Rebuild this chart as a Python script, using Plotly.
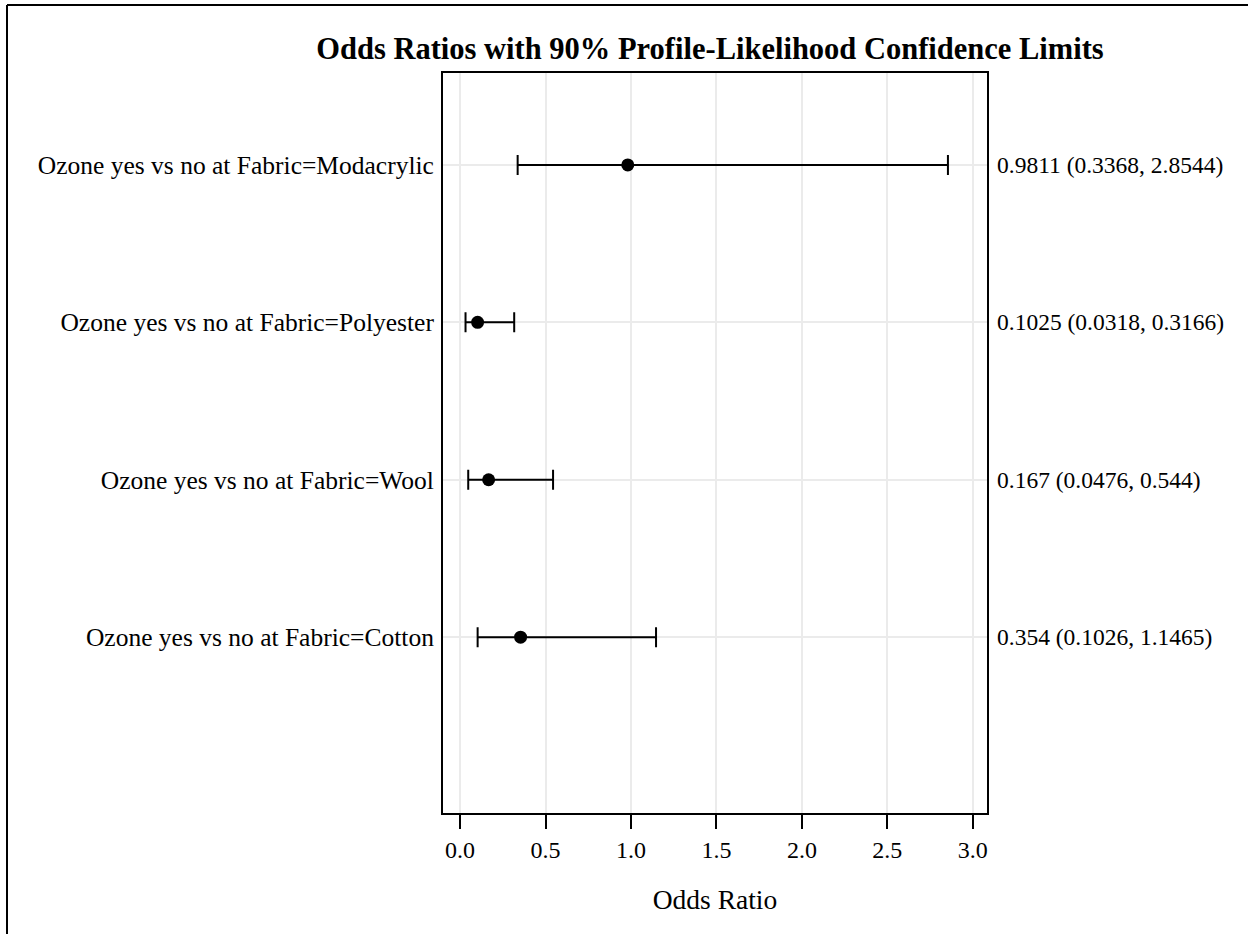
import plotly.graph_objects as go

categories = ["Ozone yes vs no at Fabric=Cotton",
              "Ozone yes vs no at Fabric=Wool",
              "Ozone yes vs no at Fabric=Polyester",
              "Ozone yes vs no at Fabric=Modacrylic"]
odds_ratio = [0.354, 0.167, 0.1025, 0.9811]
lower = [0.1026, 0.0476, 0.0318, 0.3368]
upper = [1.1465, 0.544, 0.3166, 2.8544]
right_labels = ["0.354 (0.1026, 1.1465)",
                "0.167 (0.0476, 0.544)",
                "0.1025 (0.0318, 0.3166)",
                "0.9811 (0.3368, 2.8544)"]
x_ticks = [0.0, 0.5, 1.0, 1.5, 2.0, 2.5, 3.0]
x_tick_labels = ["0.0", "0.5", "1.0", "1.5", "2.0", "2.5", "3.0"]

FONT = "Liberation Serif"
L, R, T, B = 443, 1248 - 987, 73, 934 - 813
W, H = 1248, 934
pw, ph = W - L - R, H - T - B

fig = go.Figure()
fig.add_trace(go.Scatter(
    x=odds_ratio, y=list(range(len(categories))), mode="markers",
    marker=dict(color="black", size=13),
    error_x=dict(type="data", symmetric=False,
                 array=[u - o for u, o in zip(upper, odds_ratio)],
                 arrayminus=[o - l for o, l in zip(odds_ratio, lower)],
                 color="black", thickness=2, width=10),
    showlegend=False, hoverinfo="skip"))

for i, t in enumerate(right_labels):
    fig.add_annotation(x=1, xref="paper", xshift=8, y=i, yref="y", text=t,
                       showarrow=False, xanchor="left", yanchor="middle",
                       font=dict(family=FONT, size=23.5, color="black"))

# reference line at 1
fig.add_shape(type="line", x0=1, x1=1, xref="x", y0=0, y1=1, yref="paper",
              line=dict(color="#8c8c8c", width=2), layer="below")

# outer frame (top and left)
fig.add_shape(type="line", xref="paper", yref="paper",
              x0=(7 - L) / pw, x1=(W - L) / pw + 0.01,
              y0=1 + (T - 5) / ph, y1=1 + (T - 5) / ph,
              line=dict(color="black", width=2))
fig.add_shape(type="line", xref="paper", yref="paper",
              x0=(7 - L) / pw, x1=(7 - L) / pw,
              y0=1 + (T - 5) / ph, y1=-B / ph - 0.01,
              line=dict(color="black", width=2))

fig.update_layout(
    width=W, height=H,
    margin=dict(l=L, r=R, t=T, b=B, autoexpand=False),
    plot_bgcolor="white", paper_bgcolor="white",
    title=dict(text="<b>Odds Ratios with 90% Profile-Likelihood Confidence Limits</b>",
               x=710 / W, xanchor="center", y=1 - 48 / H, yanchor="middle",
               font=dict(family=FONT, size=30.5, color="black")),
    xaxis=dict(range=[-0.1, 3.083], tickvals=x_ticks, ticktext=x_tick_labels,
               showgrid=True, gridcolor="#ebebeb", gridwidth=2,
               ticks="outside", ticklen=14, tickwidth=2, tickcolor="black",
               showline=True, linecolor="black", linewidth=2, mirror=True,
               zeroline=False,
               tickfont=dict(family=FONT, size=24, color="black"),
               title=dict(text="Odds Ratio", standoff=28,
                          font=dict(family=FONT, size=27.5, color="black"))),
    yaxis=dict(range=[-1.117, 3.584], tickvals=list(range(len(categories))),
               ticktext=categories,
               showgrid=True, gridcolor="#ebebeb", gridwidth=2,
               ticks="", ticklabelstandoff=2,
               showline=True, linecolor="black", linewidth=2, mirror=True,
               zeroline=False,
               tickfont=dict(family=FONT, size=25.5, color="black")),
)

fig.write_html("out.html")
